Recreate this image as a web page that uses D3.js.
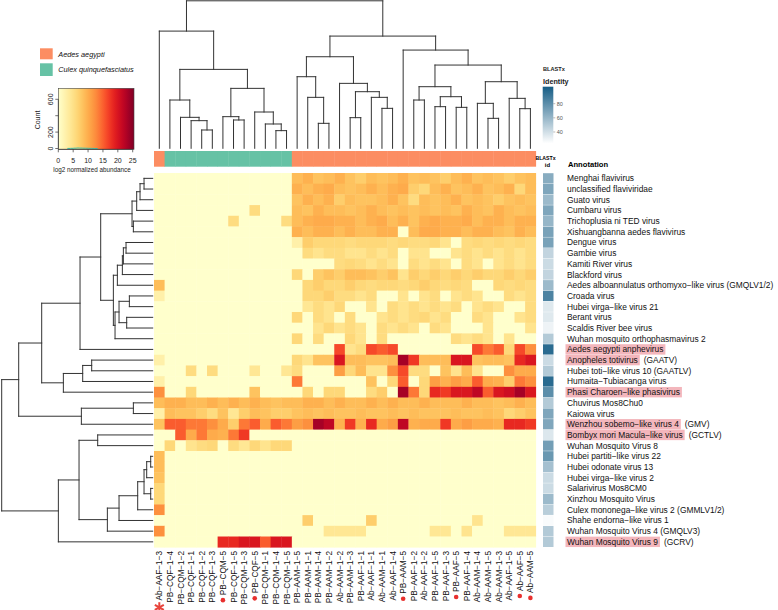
<!DOCTYPE html>
<html><head><meta charset="utf-8">
<script src="https://cdn.jsdelivr.net/npm/d3@7"></script>
<style>body{margin:0;background:#fff}svg{display:block}text{font-family:"Liberation Sans",Arial,Helvetica,sans-serif}</style>
</head><body><svg id="c" width="778" height="610"></svg>
<script>
// ---------------- DATA ----------------
const samples = ["Ab−AAF−1−3","PB−CQF−1−4","PB−CQM−1−2","PB−CQF−1−1","PB−CQF−1−2","PB−CQF−1−3","PB−CQM−5","PB−CQF−1−5","PB−CQM−1−3","PB−CQF−5","PB−CQM−1−1","PB−CQM−1−4","PB−CQM−1−5","PB−AAM−1−5","PB−AAM−1−1","PB−AAM−1−4","PB−AAM−1−2","Ab−AAM−1−2","PB−AAM−1−3","PB−AAF−1−1","Ab−AAF−1−1","Ab−AAM−1−1","Ab−AAF−1−4","PB−AAM−5","PB−AAF−1−2","Ab−AAF−1−2","PB−AAF−1−5","PB−AAF−1−3","PB−AAF−5","PB−AAF−1−4","Ab−AAM−1−4","Ab−AAM−1−5","Ab−AAM−1−3","Ab−AAF−1−5","Ab−AAF−5","Ab−AAM−5"];
const sampleSpecies = ["A","C","C","C","C","C","C","C","C","C","C","C","C","A","A","A","A","A","A","A","A","A","A","A","A","A","A","A","A","A","A","A","A","A","A","A"];
const pooledSamples = ["PB−CQM−5","PB−CQF−5","PB−AAM−5","PB−AAF−5","Ab−AAF−5","Ab−AAM−5"];
const starredSamples = ["Ab−AAF−1−3"];
const speciesNames = ["Aedes aegypti","Culex quinquefasciatus"];

const virusNames = ["Menghai flavivirus","unclassified flaviviridae","Guato virus","Cumbaru virus","Trichoplusia ni TED virus","Xishuangbanna aedes flavivirus","Dengue virus","Gambie virus","Kamiti River virus","Blackford virus","Aedes alboannulatus orthomyxo−like virus (GMQLV1/2)","Croada virus","Hubei virga−like virus 21","Berant virus","Scaldis River bee virus","Wuhan mosquito orthophasmavirus 2","Aedes aegypti anphevirus","Anopheles totivirus","Hubei toti−like virus 10 (GAATLV)","Humaita−Tubiacanga virus","Phasi Charoen−like phasivirus","Chuvirus Mos8Chu0","Kaiowa virus","Wenzhou sobemo−like virus 4","Bombyx mori Macula−like virus","Wuhan Mosquito Virus 8","Hubei partiti−like virus 22","Hubei odonate virus 13","Hubei virga−like virus 2","Salarivirus Mos8CM0","Xinzhou Mosquito Virus","Culex mononega−like virus 2 (GMMLV1/2)","Shahe endorna−like virus 1","Wuhan Mosquito Virus 4  (GMQLV3)","Wuhan Mosquito Virus 9"];
const virusSuffix = ["","","","","","","","","","","","","","","","","","(GAATV)","","","","","","(GMV)","(GCTLV)","","","","","","","","","","(GCRV)"];
const highlighted = ["Aedes aegypti anphevirus","Anopheles totivirus","Phasi Charoen−like phasivirus","Wenzhou sobemo−like virus 4","Bombyx mori Macula−like virus","Wuhan Mosquito Virus 9"];
const blastxIdentity = [65,68,58,68,60,70,70,45,42,45,58,85,35,35,30,50,97,42,50,97,80,50,68,68,36,72,75,55,42,42,58,48,26,50,50];

const Z13 = [0,0,0,0,0,0,0,0,0,0,0,0,0];
const Z23 = [0,0,0,0,0,0,0,0,0,0,0,0,0,0,0,0,0,0,0,0,0,0,0];
const abundance = [
 Z13.concat([8.5,9.5,8,8.5,9.5,8,7,8.5,8,8.5,9.5,8,8.5,8,7,8.5,9.5,8,8.5,8,7,8,8.5]),
 Z13.concat([9.5,8.5,9.5,10,8.5,8,8.5,9.5,8.5,9.5,10,7,6,8.5,9.5,8,8.5,9.5,8,8.5,9.5,6,8.5]),
 Z13.concat([8,9.5,8.5,9.5,7,8.5,8,8,8.5,9.5,8,5.5,8.5,8,8.5,9.5,8,8.5,8,7,8,8.5,8]),
 [0,0,0,0,0,0,0,0,0,5.5,0,0,0].concat([8.5,8,9.5,8.5,8.5,8,8.5,9.5,8.5,8,8.5,8,8.5,8,8.5,8,9.5,8.5,8,9.5,8.5,8,8.5]),
 [0,0,0,0,0,0,0,5.5,0,0,0,0,5.5].concat([8.5,9.5,10,10,9.5,9.5,8.5,9.5,10,8.5,9.5,8,9.5,10,9.5,9.5,10,8.5,9.5,9.5,8.5,9.5,9.5]),
 Z13.concat([9.5,8.5,9.5,9.5,8.5,9.5,8.5,8.5,9.5,9.5,0,8.5,10,10,9.5,9.5,8.5,9.5,9.5,8.5,8,9.5,8.5]),
 Z13.concat([2.5,7,6,6,6,5.5,6,6,6,5.5,6,5.5,5.5,6,4.5,0,5.5,6,5.5,6,5.5,6,5.5]),
 Z13.concat([0,5.5,4.5,5.5,5.5,4.5,4.5,5.5,4.5,5.5,0,4.5,4.5,0,0,4.5,5.5,4.5,5.5,4.5,5.5,4.5,5.5]),
 Z13.concat([0,0,0,0,5.5,6,5.5,4.5,5.5,4.5,0,5.5,4.5,5.5,4.5,0,5.5,4.5,0,4.5,5.5,4.5,5.5]),
 Z13.concat([6,0,7,8,7,8.5,8.5,8,7,8,4.5,7,6,7,6,7,6,7,6,6,7,6,7]),
 [8.5,0,0,0,0,0,0,0,0,0,0,0,0].concat([0,6,7,6,6,7,6,5.5,6,6,5.5,6,7,6,5.5,6,5.5,0,0,6,5.5,6,5.5]),
 [2.5,0,0,0,0,0,0,0,0,0,0,0,0].concat([0,6,6,7,5.5,5.5,4.5,5.5,0,0,4.5,0,4.5,5.5,0,4.5,5.5,4.5,0,0,5.5,4.5,5.5]),
 Z13.concat([0,4,5.5,4.5,6,0,0,4.5,0,5.5,4.5,5.5,4.5,5.5,4.5,5.5,0,4.5,5.5,4.5,0,0,5.5]),
 Z13.concat([6,0,5.5,4.5,0,5.5,0,0,4.5,5.5,4.5,5.5,6,4.5,5.5,0,0,5.5,4.5,0,0,4.5,5.5]),
 Z13.concat([0,0,4.5,6,4.5,5.5,4.5,0,5.5,4.5,5.5,4.5,0,5.5,4.5,0,0,0,4.5,0,0,0,4.5]),
 Z13.concat([6,0,5.5,0,0,6,4.5,0,5.5,0,0,0,0,0,0,5.5,4.5,5.5,4.5,0,4.5,0,0]),
 Z13.concat([0,0,0,0,16,4.5,5.5,16,15,16,0,0,0,0,0,0,0,16,13.5,15,6,16,12]),
 [2.5,0,0,0,0,0,0,0,0,0,0,0,0].concat([6,4.5,8,8,19.5,8.5,8.5,8,8,8.5,23,17,8.5,8.5,8.5,19.5,19.5,8,8.5,8.5,8,18,19.5]),
 [0,0,0,5.5,0,5.5,0,0,0,4,0,0,4].concat([5.5,0,0,0,11,6,8.5,4.5,4.5,12,16,5.5,5.5,0,8,4.5,8.5,4.5,0,0,12,10,10]),
 [2.5,0,0,0,0,0,0,0,0,0,0,0,0].concat([13.5,0,0,0,0,0,0,8,0,6,15,0,6,11,9.5,11,10,15,10,9.5,7,13.5,12]),
 [12,0,0,6,0,0,0,0,0,8,0,0,0].concat([0,6,0,6,6,0,0,5.5,7,0,23,13.5,6,18,17,19.5,19.5,21.5,15,19.5,20.5,23,19.5]),
 [8.5,9.5,9.5,8.5,8.5,9.5,8.5,9.5,8.5,9.5,8.5,8,8.5].concat([8.5,9.5,9.5,8.5,9.5,8.5,8.5,9.5,8.5,9.5,8.5,8.5,9.5,8.5,8.5,8.5,9.5,8.5,8.5,8,8.5,9.5,8.5]),
 [2.5,8.5,8,8,7,5.5,8,4,7,8.5,8,7,7].concat([8,8.5,8,8.5,8,8,8.5,8,8,8.5,8,8.5,8,8,8,8.5,8,8,8.5,8,6,7,8]),
 [8,15,15,13.5,13.5,12,10,7,13.5,15,10,15,13.5].concat([11,12,23,21.5,9.5,17,9.5,18,10,11,21.5,9.5,10,10,17,10,11,10,10,9.5,18,18,17]),
 [0,0,15,10,13.5,10,9.5,13.5,17,0,0,0,0].concat(Z23),
 [0,6,0,4.5,5.5,6,0,5.5,4,6,4.5,6,6].concat(Z23),
 [8.5,0,0,0,0,0,0,0,0,0,0,0,0].concat(Z23),
 [8.5,0,0,0,0,0,0,0,0,0,0,0,0].concat(Z23),
 [8,0,0,0,0,0,0,0,0,0,0,0,0].concat(Z23),
 [6,0,0,0,0,0,0,0,0,0,0,0,0].concat(Z23),
 [6,0,0,0,0,0,0,0,0,0,0,0,0].concat(Z23),
 [12,0,0,0,0,0,0,0,0,0,0,0,0].concat(Z23),
 Z13.concat([0,7,0,0,0,0,0,7,0,0,0,0,0,0,0,0,0,4.5,0,0,0,0,0]),
 [12,0,0,0,0,0,0,0,0,0,0,0,0].concat([0,0,0,4,4,4,4,0,0,0,0,0,0,4,4,0,4.5,0,0,0,4,4,4]),
 [0,0,0,0,0,0,18,18,19.5,19.5,15,19.5,19.5].concat(Z23)
];

// hclust-style merges: negative = leaf (1-based), positive = earlier merge; third = height
const colMerge = [[-5,-6,55],[-4,1,83],[-3,2,93],[-2,3,145],[-8,-9,85],[-7,5,95],[-12,-13,53],[-11,7,73],[-10,8,109],[6,9,180],[4,10,237],[-1,11,352],[-16,-17,75],[-15,13,153],[-14,14,215],[-22,-23,120],[-21,16,153],[-19,-20,92],[18,17,170],[-18,19,195],[15,20,275],[-25,-26,145],[-27,-28,125],[-29,-30,123],[23,24,155],[22,25,185],[-32,-33,90],[-31,27,135],[-35,-36,119],[-34,29,150],[28,30,200],[26,31,250],[-24,32,295],[21,33,337],[12,34,443]];
const rowMerge = [[-1,-2,26],[-3,1,38],[-4,2,48],[-5,-6,58],[3,4,62],[-7,-8,80],[-9,6,88],[-10,7,91],[-11,8,106],[-12,-13,70],[-14,-15,78],[10,11,101],[12,-16,113],[9,13,118],[5,14,156],[15,-17,218],[-18,-19,183],[17,-20,210],[18,-21,268],[16,19,333],[-22,-23,58],[21,-24,214],[20,22,402],[-25,-26,165],[-27,-28,6],[25,-29,18],[-30,-31,6],[26,27,26],[28,-32,45],[29,-33,101],[30,-34,136],[24,31,221],[32,-35,283],[23,33,453]];

const keyTicksX = [0,5,10,15,20,25];
const keyTicksY = [0,200,400,600];
const keyTickLabelsY = ["0","200","","600"];
const histBins = [3,4,5,6,7,8,9,10,11,12];
const histCounts = [1,2,4,6,5,4,3,2,1,0];
const identityTicks = [40,60,80];

// ---------------- DRAW ----------------
const svg = d3.select("#c");
const speciesColor = d3.scaleOrdinal().domain(["A","C"]).range(["#fc8d62","#66c2a5"]);
const heat = d3.scaleSequential(d3.interpolateYlOrRd).domain([0,25]);
const idColor = d3.scaleLinear().domain([24,104]).range(["#ffffff","#165d85"]);
const x = d3.scaleBand().domain(d3.range(samples.length)).range([154,535.7]);
const y = d3.scaleBand().domain(d3.range(virusNames.length)).range([173,547.2]);
const bw = x.bandwidth(), bh = y.bandwidth();
const cx = j => x(j) + bw/2, cy = i => y(i) + bh/2;

// heatmap
const g = svg.append("g");
abundance.forEach((row,i)=>row.forEach((v,j)=>{
  g.append("rect").attr("x",x(j)).attr("y",y(i)).attr("width",bw+0.4).attr("height",bh+0.4).attr("fill",heat(v));
}));

// species annotation bar
svg.append("g").selectAll("rect").data(sampleSpecies).join("rect")
  .attr("x",(d,j)=>x(j)).attr("y",151).attr("width",bw+0.4).attr("height",15.7)
  .attr("fill",d=>speciesColor(d));

// dendrograms
function dendro(merges, leafPos){
  const pos=[], hgt=[], segs=[];
  const get = id => id<0 ? {p:leafPos(-id-1),h:0} : {p:pos[id-1],h:hgt[id-1]};
  merges.forEach(([a,b,h])=>{
    const A=get(a), B=get(b);
    segs.push([A.p,A.h,A.p,h],[A.p,h,B.p,h],[B.p,h,B.p,B.h]);
    pos.push((A.p+B.p)/2); hgt.push(h);
  });
  return segs;
}
const topH = d3.scaleLinear().domain([0,443]).range([148.3,0.8]);
svg.append("g").selectAll("line").data(dendro(colMerge,cx)).join("line")
  .attr("x1",d=>d[0]).attr("y1",d=>topH(d[1])).attr("x2",d=>d[2]).attr("y2",d=>topH(d[3]))
  .attr("stroke","#333").attr("stroke-width",1).attr("stroke-linecap","square");
const leftH = d3.scaleLinear().domain([0,453]).range([152.7,1.7]);
svg.append("g").selectAll("line").data(dendro(rowMerge,cy)).join("line")
  .attr("y1",d=>d[0]).attr("x1",d=>leftH(d[1])).attr("y2",d=>d[2]).attr("x2",d=>leftH(d[3]))
  .attr("stroke","#333").attr("stroke-width",1).attr("stroke-linecap","square");

// BLASTx identity column
svg.append("g").selectAll("rect").data(blastxIdentity).join("rect")
  .attr("x",543).attr("y",(d,i)=>y(i)+0.2).attr("width",10.5).attr("height",bh-0.4)
  .attr("fill",d=>idColor(d));

// row labels
const rl = svg.append("g").attr("font-size",8.4).attr("fill","#111");
virusNames.forEach((name,i)=>{
  const t = rl.append("text").attr("x",567).attr("y",cy(i)+3).text(name);
  const w = t.node().getComputedTextLength();
  if (highlighted.includes(name)){
    rl.insert("rect","text").attr("x",565.5).attr("y",cy(i)-5.2).attr("width",w+3.5).attr("height",10.4).attr("fill","#f3b6bc");
  }
  if (virusSuffix[i]) rl.append("text").attr("x",567+w+6).attr("y",cy(i)+3).text(virusSuffix[i]);
});

// column labels
const cl = svg.append("g").attr("font-size",8.2).attr("fill","#111");
samples.forEach((s,j)=>{
  const t = cl.append("text").attr("transform",`translate(${cx(j)+3},551) rotate(-90)`)
    .attr("text-anchor","end").text(s);
  const len = t.node().getComputedTextLength();
  if (pooledSamples.includes(s))
    cl.append("circle").attr("cx",cx(j)).attr("cy",551+len+5).attr("r",2.3).attr("fill","#e8302e");
  if (starredSamples.includes(s)){
    const yc = 551+len+7, r=5.2;
    [90,30,-30].forEach(a=>{
      const dx=r*Math.cos(a*Math.PI/180), dy=r*Math.sin(a*Math.PI/180);
      cl.append("line").attr("x1",cx(j)-dx).attr("y1",yc-dy).attr("x2",cx(j)+dx).attr("y2",yc+dy)
        .attr("stroke","#e8453c").attr("stroke-width",2);
    });
  }
});

// headers
svg.append("text").attr("x",545.5).attr("y",159.5).attr("text-anchor","middle").attr("font-size",5.2).attr("font-weight","bold").text("BLASTx");
svg.append("text").attr("x",547.5).attr("y",167).attr("text-anchor","middle").attr("font-size",6).attr("font-weight","bold").text("id");
svg.append("text").attr("x",568).attr("y",167).attr("font-size",7.6).attr("font-weight","bold").text("Annotation");

// species legend
speciesNames.forEach((n,k)=>{
  const yy = [48.3,63.3][k];
  svg.append("rect").attr("x",40).attr("y",yy).attr("width",12.7).attr("height",[11,12.7][k]).attr("fill",speciesColor(["A","C"][k]));
  svg.append("text").attr("x",58.3).attr("y",yy+8.2).attr("font-size",7.3).attr("font-style","italic").attr("fill","#111").text(n);
});

// color key
const defs = svg.append("defs");
const lg = defs.append("linearGradient").attr("id","yl").attr("x1","0%").attr("x2","100%");
d3.range(0,1.0001,0.05).forEach(t=>lg.append("stop").attr("offset",t*100+"%").attr("stop-color",d3.interpolateYlOrRd(t)));
const kx = d3.scaleLinear().domain([0,25]).range([58.3,132.7]);
const ky = d3.scaleLinear().domain([0,734]).range([148.5,88.3]);
svg.append("rect").attr("x",58.3).attr("y",88.3).attr("width",75.7).attr("height",61).attr("fill","url(#yl)").attr("stroke","#444").attr("stroke-width",0.6);
// histogram
const hx = d3.scaleLinear().domain([0,25]).range([58.3,134]);
const hp = d3.path();
histBins.forEach((b,k)=>{ const yy=ky(histCounts[k]); if(k===0) hp.moveTo(hx(b),ky(0)); hp.lineTo(hx(b),yy); hp.lineTo(hx(b+1),yy);});
hp.lineTo(hx(histBins[histBins.length-1]+1),ky(0));
svg.append("path").attr("d",hp.toString()).attr("fill","none").attr("stroke","#3cc4b0").attr("stroke-width",1);
// axes
const ka = svg.append("g").attr("stroke","#333").attr("stroke-width",0.7);
ka.append("line").attr("x1",kx(0)).attr("x2",kx(25)).attr("y1",149.3).attr("y2",149.3);
keyTicksX.forEach(v=>ka.append("line").attr("x1",kx(v)).attr("x2",kx(v)).attr("y1",149.3).attr("y2",152.3));
ka.append("line").attr("x1",58.3).attr("x2",58.3).attr("y1",ky(0)).attr("y2",ky(600));
keyTicksY.forEach(v=>ka.append("line").attr("x1",55.3).attr("x2",58.3).attr("y1",ky(v)).attr("y2",ky(v)));
const kt = svg.append("g").attr("font-size",7).attr("fill","#222").attr("text-anchor","middle");
keyTicksX.forEach(v=>kt.append("text").attr("x",kx(v)).attr("y",163).text(v));
keyTicksY.forEach((v,k)=>{ if(keyTickLabelsY[k]) kt.append("text").attr("transform",`translate(53.3,${ky(v)}) rotate(-90)`).text(keyTickLabelsY[k]); });
kt.append("text").attr("transform","translate(39.5,120) rotate(-90)").text("Count");
kt.append("text").attr("x",92).attr("y",172).attr("font-size",6.3).text("log2 normalized abundance");

// identity legend
svg.append("text").attr("x",543).attr("y",71).attr("font-size",5.6).attr("font-weight","bold").attr("fill","#222").text("BLASTx");
svg.append("text").attr("x",543).attr("y",83.5).attr("font-size",7.2).attr("font-weight","bold").attr("fill","#222").text("Identity");
const ig = defs.append("linearGradient").attr("id","idg").attr("x1","0%").attr("x2","0%").attr("y1","100%").attr("y2","0%");
ig.append("stop").attr("offset","0%").attr("stop-color",idColor(24));
ig.append("stop").attr("offset","100%").attr("stop-color",idColor(104));
const iy = d3.scaleLinear().domain([24,104]).range([143.3,86.7]);
svg.append("rect").attr("x",542.7).attr("y",86.7).attr("width",10.6).attr("height",56.6).attr("fill","url(#idg)");
identityTicks.forEach(v=>{
  svg.append("line").attr("x1",553.3).attr("x2",555.3).attr("y1",iy(v)).attr("y2",iy(v)).attr("stroke","#777").attr("stroke-width",0.5);
  svg.append("text").attr("x",556.7).attr("y",iy(v)+2).attr("font-size",5.5).attr("fill","#555").text(v);
});
</script></body></html>
